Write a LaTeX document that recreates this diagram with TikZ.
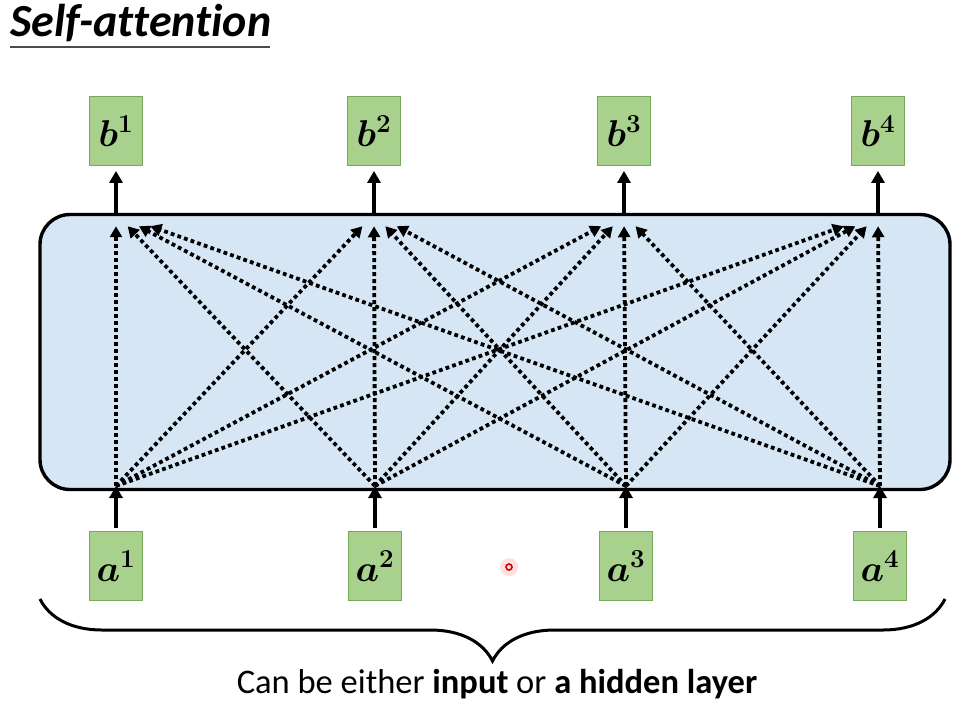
\documentclass[tikz,border=0pt]{standalone}
\usepackage{fontspec}
\usepackage{bm}
\newfontfamily\calibri[Ligatures=NoCommon]{Carlito}
\usetikzlibrary{arrows.meta,decorations.pathreplacing,calc}
\definecolor{boxgreen}{RGB}{169,209,142}
\definecolor{boxedge}{RGB}{118,170,88}
\definecolor{layerblue}{RGB}{214,230,244}
\newcommand{\vecsym}[2]{\scalebox{1.5}{$\bm{#1}^{\bm{#2}}$}}

\begin{document}
\begin{tikzpicture}[x=1pt,y=-1pt,
    vec/.style={draw=boxedge, fill=boxgreen, line width=0.8pt, minimum width=53pt, minimum height=69pt, inner sep=0pt, font=\fontsize{24}{24}\selectfont},
    flow/.style={line width=3.8pt, -{Triangle[width=13pt,length=12pt]}},
    attend/.style={line width=3.8pt, dash pattern=on 3.8pt off 3.2pt, -{Triangle[width=12pt,length=11pt]}}]
\useasboundingbox (0,0) rectangle (965,707);
% title
    \node [anchor=base west, inner sep=0pt, font=\calibri\bfseries\itshape\fontsize{46}{46}\selectfont] (title) at (10,36) {Self-attention};
    \draw [line width=1.6pt, color=black!70] (title.base west) ++(0,11) coordinate (ul) -- ++(260,0);
% the layer
    \node [draw, line width=3.4pt, fill=layerblue, rounded corners=30pt, minimum width=910pt, minimum height=275pt] (layer) at (495,352) {};
% outputs
    \node [vec] (b1) at (116,131) {\vecsym{b}{1}};
    \node [vec] (b2) at (374,131) {\vecsym{b}{2}};
    \node [vec] (b3) at (624,131) {\vecsym{b}{3}};
    \node [vec] (b4) at (878,131) {\vecsym{b}{4}};
% inputs
    \node [vec] (a1) at (116,566) {\vecsym{a}{1}};
    \node [vec] (a2) at (375,566) {\vecsym{a}{2}};
    \node [vec] (a3) at (626,566) {\vecsym{a}{3}};
    \node [vec] (a4) at (880,566) {\vecsym{a}{4}};
% points on the layer
    \coordinate (e1) at (116,214);
    \coordinate (e2) at (374,214);
    \coordinate (e3) at (624,214);
    \coordinate (e4) at (878,214);
    \coordinate (s1) at (116,486);
    \coordinate (s2) at (375,486);
    \coordinate (s3) at (626,486);
    \coordinate (s4) at (880,486);
    \draw [flow, shorten >=5pt] (e1) -- (b1.south);
    \draw [flow, shorten >=5pt] (e2) -- (b2.south);
    \draw [flow, shorten >=5pt] (e3) -- (b3.south);
    \draw [flow, shorten >=5pt] (e4) -- (b4.south);
    \draw [flow, shorten <=3pt] (a1.north) -- (s1);
    \draw [flow, shorten <=3pt] (a2.north) -- (s2);
    \draw [flow, shorten <=3pt] (a3.north) -- (s3);
    \draw [flow, shorten <=3pt] (a4.north) -- (s4);
% every input to every output
    \draw [attend] (s1) -- ($(s1)!0.955!(e1)$);
    \draw [attend] (s2) -- ($(s2)!0.955!(e1)$);
    \draw [attend] (s3) -- ($(s3)!0.955!(e1)$);
    \draw [attend] (s4) -- ($(s4)!0.955!(e1)$);
    \draw [attend] (s1) -- ($(s1)!0.955!(e2)$);
    \draw [attend] (s2) -- ($(s2)!0.955!(e2)$);
    \draw [attend] (s3) -- ($(s3)!0.955!(e2)$);
    \draw [attend] (s4) -- ($(s4)!0.955!(e2)$);
    \draw [attend] (s1) -- ($(s1)!0.955!(e3)$);
    \draw [attend] (s2) -- ($(s2)!0.955!(e3)$);
    \draw [attend] (s3) -- ($(s3)!0.955!(e3)$);
    \draw [attend] (s4) -- ($(s4)!0.955!(e3)$);
    \draw [attend] (s1) -- ($(s1)!0.955!(e4)$);
    \draw [attend] (s2) -- ($(s2)!0.955!(e4)$);
    \draw [attend] (s3) -- ($(s3)!0.955!(e4)$);
    \draw [attend] (s4) -- ($(s4)!0.955!(e4)$);
% pointer
    \fill [red!12] (509,567) circle (9);
    \draw [red!85!black, line width=1.6pt] (509,567) circle (3);
% brace and note
    \coordinate (br) at (945,599);
    \coordinate (bl) at (40,599);
    \draw [line width=3pt, decorate, decoration={brace, amplitude=62pt}] (br) -- (bl);
    \node [anchor=base, inner sep=0pt, font=\calibri\fontsize{34.5}{34.5}\selectfont] (note) at (497,693) {Can be either \textbf{input} or \textbf{a hidden layer}};
\end{tikzpicture}
\end{document}
